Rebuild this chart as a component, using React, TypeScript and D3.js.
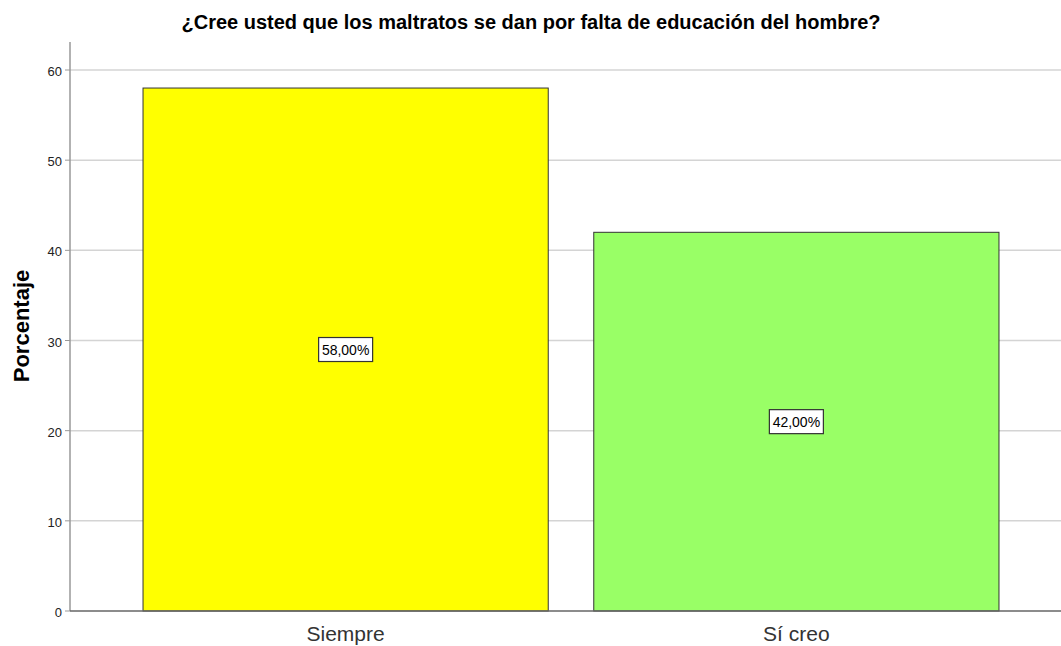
import React from "react";
import * as d3 from "d3";

const categories = ["Siempre", "Sí creo"];
const values = [58, 42];
const labels = ["58,00%", "42,00%"];
const colors = ["#FFFF00", "#99FF66"];
const yTicks = [0, 10, 20, 30, 40, 50, 60];
const title = "¿Cree usted que los maltratos se dan por falta de educación del hombre?";
const yTitle = "Porcentaje";

export default function App() {
  const W = 1061, H = 646;
  const y = d3.scaleLinear().domain([0, 60]).range([611, 70]);
  const x = d3.scaleBand<string>().domain(categories).range([70, 1072]).paddingInner(0.101).paddingOuter(0.162);
  const top = y(63.1);
  return (
    <svg width={W} height={H} style={{ position: "absolute", left: 0, top: 0, background: "#fff" }} fontFamily="Arial, 'Liberation Sans', sans-serif">
      <text x={531} y={29} textAnchor="middle" fontSize={20} fontWeight="bold" fill="#000">{title}</text>
      {yTicks.map((t) => (
        <g key={t}>
          {t > 0 && <line x1={70} x2={W} y1={y(t)} y2={y(t)} stroke="#d4d4d4" strokeWidth={1.5} />}
          <line x1={65} x2={70} y1={y(t)} y2={y(t)} stroke="#999" strokeWidth={1} />
          <text x={62} y={y(t) + 6} textAnchor="end" fontSize={13} fill="#222">{t}</text>
        </g>
      ))}
      {categories.map((c, i) => {
        const x0 = x(c)!;
        const bw = x.bandwidth();
        const cy = y(values[i] / 2);
        const cx = x0 + bw / 2;
        return (
          <g key={c}>
            <rect x={x0} y={y(values[i])} width={bw} height={y(0) - y(values[i])} fill={colors[i]} stroke="#333" strokeWidth={1} />
            <rect x={cx - 27} y={cy - 12} width={54} height={24} fill="#fff" stroke="#333" strokeWidth={1.2} />
            <text x={cx} y={cy + 5} textAnchor="middle" fontSize={14} fill="#000">{labels[i]}</text>
            <text x={cx} y={641} textAnchor="middle" fontSize={21} fill="#333">{c}</text>
          </g>
        );
      })}
      <line x1={70} x2={70} y1={top} y2={611} stroke="#999" strokeWidth={1.5} />
      <line x1={70} x2={W} y1={611} y2={611} stroke="#666" strokeWidth={1.5} />
      <text transform={`translate(29,${326}) rotate(-90)`} textAnchor="middle" fontSize={22} fontWeight="bold" fill="#000">{yTitle}</text>
    </svg>
  );
}
